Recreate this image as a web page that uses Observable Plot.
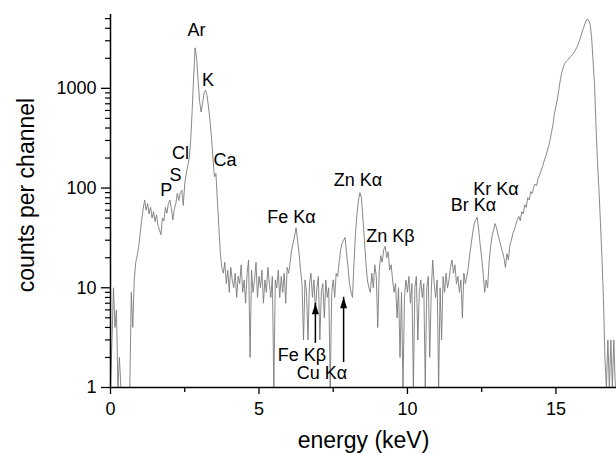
<!DOCTYPE html>
<html>
<head>
<meta charset="utf-8">
<script src="https://cdn.jsdelivr.net/npm/d3@7"></script>
<script src="https://cdn.jsdelivr.net/npm/@observablehq/plot@0.6"></script>
<style>
  body { margin: 0; background: #fff; }
  #chart svg { display: block; }
</style>
</head>
<body>
<div id="chart"></div>
<script>
// Spectrum: counts per channel, channels every 0.05 keV starting at 0 keV
const energyStart = 0;
const energyStep = 0.05;
const counts = [
  // 0.00 - 0.95
  1, 3, 10, 4, 6, 1, 2, 1, 1, 1, 1, 1, 1, 1, 9, 4, 12, 18, 21, 26,
  // 1.00 - 1.95
  35, 48, 62, 76, 60, 70, 55, 64, 50, 58, 46, 54, 42, 38, 34, 50, 47, 64, 56, 70,
  // 2.00 - 2.95
  76, 62, 48, 62, 70, 89, 75, 90, 95, 67, 110, 140, 165, 200, 300, 600, 1300, 2550, 2000, 1200,
  // 3.00 - 3.95
  750, 580, 700, 900, 960, 850, 650, 480, 320, 200, 130, 140, 75, 40, 22, 16, 14, 18, 11, 15,
  // 4.00 - 4.95
  9, 16, 12, 10, 14, 8, 13, 11, 17, 9, 12, 7, 14, 19, 2, 15, 9, 12, 18, 8,
  // 5.00 - 5.95
  13, 10, 15, 7, 12, 9, 16, 11, 8, 13, 1, 12, 10, 15, 8, 13, 9, 14, 7, 16,
  // 6.00 - 6.95
  14, 18, 24, 28, 33, 40, 30, 22, 15, 11, 3, 12, 9, 3, 11, 14, 8, 12, 6, 10,
  // 7.00 - 7.95
  13, 3, 9, 11, 5, 12, 8, 10, 1, 9, 12, 8, 14, 13, 18, 24, 28, 30, 32, 22,
  // 8.00 - 8.95
  16, 11, 9, 8, 18, 35, 55, 75, 90, 80, 50, 30, 18, 12, 10, 9, 14, 10, 17, 13,
  // 9.00 - 9.95
  4, 15, 21, 18, 24, 26, 20, 23, 15, 17, 12, 9, 11, 5, 10, 2, 9, 1, 8, 12,
  // 10.00 - 10.95
  9, 13, 7, 11, 1, 10, 13, 3, 9, 12, 8, 11, 1, 10, 13, 2, 9, 19, 11, 8,
  // 11.00 - 11.95
  12, 1, 10, 3, 13, 9, 14, 10, 12, 16, 19, 14, 17, 11, 13, 9, 12, 5, 14, 11,
  // 12.00 - 12.95
  13, 16, 22, 28, 36, 44, 48, 51, 38, 27, 20, 14, 9, 12, 10, 18, 26, 33, 38, 44,
  // 13.00 - 13.95
  40, 34, 30, 26, 23, 20, 16, 22, 19, 27, 30, 35, 38, 43, 48, 52, 47, 58, 55, 68,
  // 14.00 - 14.95
  64, 80, 76, 92, 88, 102, 110, 106, 125, 135, 148, 165, 185, 206, 230, 260, 300, 360, 430, 560,
  // 15.00 - 15.95
  660, 780, 980, 1220, 1450, 1640, 1780, 1870, 1930, 2010, 2090, 2170, 2260, 2400, 2560, 2780, 3050, 3400, 3800, 4200,
  // 16.00 - 16.95
  4650, 4960, 4850, 4400, 3300, 1900, 1100, 420, 180, 95, 45, 20, 8, 2, 1, 3, 1, 3, 1, 3,
  // 17.00
  1
];

// Peak labels
const peakNames  = ["Ar", "K", "Cl", "S", "P", "Ca", "Fe K\u03b1", "Zn K\u03b1", "Zn K\u03b2", "Br K\u03b1", "Kr K\u03b1"];
const peakEnergy = [2.90, 3.28, 2.36, 2.19, 1.88, 3.855, 6.09, 8.33, 9.43, 12.22, 12.98];
const peakCounts = [3785, 1203, 222, 135, 95, 189, 51, 120, 33, 67, 98];

// Arrowed labels
const arrowNames       = ["Fe K\u03b2", "Cu K\u03b1"];
const arrowLabelEnergy = [6.45, 7.12];
const arrowLabelCounts = [2.12, 1.40];
const arrowEnergy      = [6.90, 7.85];
const arrowFrom        = [2.77, 1.78];
const arrowTo          = [6.98, 8.03];

// Ticks
const xMajorTicks = [0, 5, 10, 15];
const xMinorTicks = [2.5, 7.5, 12.5];
const yMajorTicks = [1, 10, 100, 1000];
const yMinorTicks = [2, 3, 4, 5, 6, 7, 8, 9, 20, 30, 40, 50, 60, 70, 80, 90,
                     200, 300, 400, 500, 600, 700, 800, 900, 2000, 3000, 4000, 5000];

const xDomain = [0, 17.04];
const yDomain = [1, 5500];

const spectrum = counts.map((c, i) => ({energy: +(energyStart + i * energyStep).toFixed(2), counts: c}));
const peaks = peakNames.map((name, i) => ({name, energy: peakEnergy[i], counts: peakCounts[i]}));
const arrowLabels = arrowNames.map((name, i) => ({name, energy: arrowLabelEnergy[i], counts: arrowLabelCounts[i]}));
const arrows = arrowEnergy.map((e, i) => ({energy: e, from: arrowFrom[i], to: arrowTo[i]}));

const arrowHead = {
  draw(context) {
    context.moveTo(0, 0);
    context.lineTo(3.5, 11);
    context.lineTo(-3.5, 11);
    context.closePath();
  }
};

const font = "'Liberation Sans', Arial, Helvetica, sans-serif";

const chart = Plot.plot({
  width: 616,
  height: 454,
  marginLeft: 110,
  marginRight: 0,
  marginTop: 14,
  marginBottom: 67,
  style: {fontFamily: font, fontSize: "18px", color: "#000", background: "#fff"},
  x: {domain: xDomain},
  y: {type: "log", domain: yDomain},
  marks: [
    Plot.line(spectrum, {x: "energy", y: "counts", stroke: "#7a7a7a", strokeWidth: 0.9, clip: true}),
    Plot.ruleY([yDomain[0]], {stroke: "#000", strokeWidth: 1.5}),
    Plot.ruleX([xDomain[0]], {stroke: "#000", strokeWidth: 1.5}),
    Plot.axisX({ticks: xMinorTicks, tickSize: 5, tickFormat: () => "", label: null, strokeWidth: 1.3}),
    Plot.axisX({ticks: xMajorTicks, tickSize: 7, tickPadding: 8, tickFormat: d => String(d), label: null, fontSize: 18, strokeWidth: 1.3}),
    Plot.axisY({ticks: yMinorTicks, tickSize: 5, tickFormat: () => "", label: null, strokeWidth: 1.2}),
    Plot.axisY({ticks: yMajorTicks, tickSize: 9, tickPadding: 5, tickFormat: d => String(d), label: null, fontSize: 18, strokeWidth: 1.3}),
    Plot.text(peaks, {x: "energy", y: "counts", text: "name", fontSize: 18, fill: "#000"}),
    Plot.text(arrowLabels, {x: "energy", y: "counts", text: "name", fontSize: 18, fill: "#000"}),
    Plot.ruleX(arrows, {x: "energy", y1: "from", y2: "to", stroke: "#000", strokeWidth: 1.5}),
    Plot.dot(arrows, {x: "energy", y: "to", symbol: arrowHead, fill: "#000", stroke: null}),
    Plot.text(["energy (keV)"], {frameAnchor: "bottom", textAnchor: "middle", lineAnchor: "bottom", dy: 60, fontSize: 23, fill: "#000"}),
    Plot.text(["counts per channel"], {frameAnchor: "left", textAnchor: "middle", lineAnchor: "middle", rotate: -90, dx: -84, dy: -6, fontSize: 23, fill: "#000"})
  ]
});

document.getElementById("chart").appendChild(chart);
</script>
</body>
</html>
